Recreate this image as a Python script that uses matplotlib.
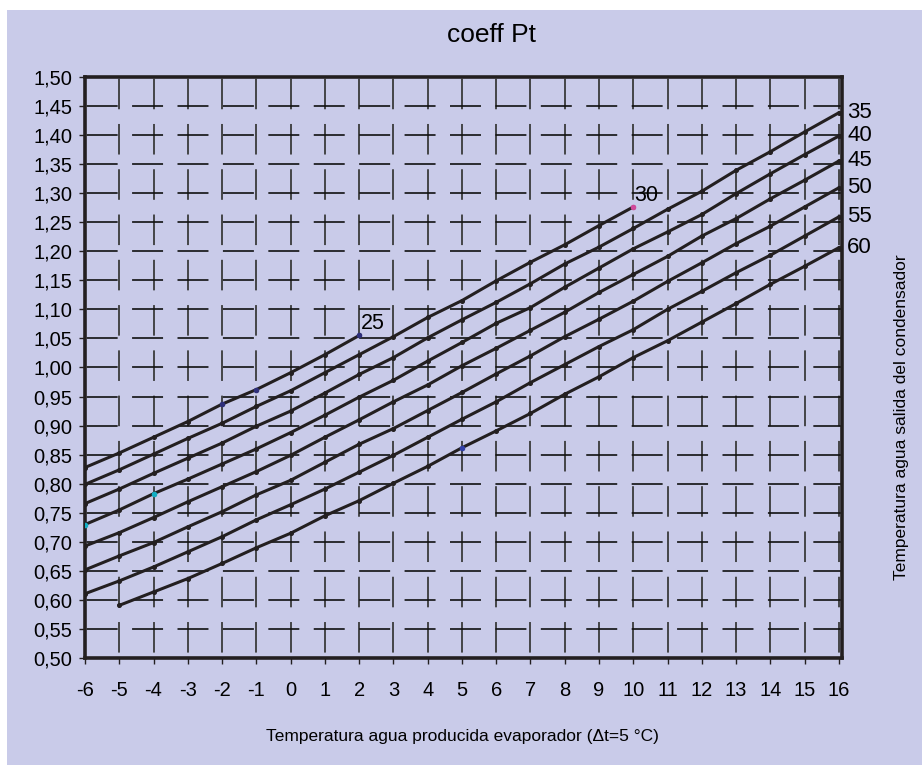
import numpy as np
import matplotlib
matplotlib.use("Agg")
import matplotlib.pyplot as plt
from matplotlib.patches import Rectangle
from matplotlib.ticker import FuncFormatter

plt.rcParams['font.family'] = ['Liberation Sans', 'DejaVu Sans']
plt.rcParams['lines.scale_dashes'] = False
plt.rcParams['axes.unicode_minus'] = False

BG = '#c9cbe9'
INK = '#231f20'

# temperatura agua producida evaporador
x_full = list(range(-6, 17))

# one curve per temperatura agua salida del condensador
t25_x = list(range(-6, 3))
t25 = [0.828, 0.853, 0.880, 0.907, 0.937, 0.962, 0.991, 1.022, 1.055]

t30_x = list(range(-6, 11))
t30 = [0.799, 0.824, 0.851, 0.878, 0.904, 0.933, 0.960, 0.991, 1.022,
       1.053, 1.086, 1.115, 1.149, 1.181, 1.211, 1.244, 1.276]

t35 = [0.766, 0.791, 0.818, 0.844, 0.870, 0.899, 0.925, 0.956, 0.988,
       1.017, 1.051, 1.082, 1.112, 1.144, 1.178, 1.207, 1.239, 1.272,
       1.303, 1.339, 1.371, 1.405, 1.438]

t40 = [0.730, 0.755, 0.783, 0.808, 0.834, 0.860, 0.888, 0.918, 0.949,
       0.978, 1.011, 1.043, 1.076, 1.103, 1.138, 1.171, 1.204, 1.233,
       1.263, 1.299, 1.333, 1.366, 1.398]

t45 = [0.693, 0.716, 0.742, 0.769, 0.795, 0.821, 0.849, 0.880, 0.910,
       0.941, 0.970, 1.003, 1.033, 1.064, 1.095, 1.129, 1.160, 1.191,
       1.226, 1.256, 1.290, 1.322, 1.355]

t50 = [0.652, 0.676, 0.699, 0.726, 0.752, 0.781, 0.806, 0.837, 0.868,
       0.895, 0.926, 0.957, 0.989, 1.020, 1.053, 1.083, 1.114, 1.148,
       1.180, 1.213, 1.243, 1.276, 1.309]

t55 = [0.611, 0.633, 0.657, 0.683, 0.709, 0.738, 0.764, 0.791, 0.820,
       0.849, 0.880, 0.911, 0.941, 0.974, 1.005, 1.036, 1.065, 1.100,
       1.131, 1.163, 1.193, 1.226, 1.259]

t60_x = list(range(-5, 17))
t60 = [0.591, 0.614, 0.637, 0.663, 0.690, 0.715, 0.745, 0.771, 0.801,
       0.830, 0.862, 0.891, 0.921, 0.954, 0.984, 1.017, 1.046, 1.078,
       1.110, 1.143, 1.174, 1.206]

series = [("25", t25_x, t25), ("30", t30_x, t30), ("35", x_full, t35),
          ("40", x_full, t40), ("45", x_full, t45), ("50", x_full, t50),
          ("55", x_full, t55), ("60", t60_x, t60)]

# a few points that show up coloured in the original
hl_series = ["25", "25", "25", "40", "40", "60", "30"]
hl_x = [-2, -1, 2, -6, -4, 5, 10]
hl_col = ['#2e2f7a', '#2e2f7a', '#2e2f7a', '#12aec4', '#12aec4', '#3240a8', '#d0489a']

fig = plt.figure(figsize=(9.22, 7.65), dpi=100)
fig.patch.set_facecolor('white')
fig.patches.append(Rectangle((7 / 922, 0), 1, 1 - 10 / 765, transform=fig.transFigure,
                             facecolor=BG, edgecolor='none', zorder=-10))

ax = fig.add_axes([85 / 922, 0.1395, 757 / 922, 0.7603])
ax.set_facecolor(BG)

for name, xs, ys in series:
    ax.plot(xs, ys, color=INK, lw=2.2, marker='o', ms=2.6, zorder=3)
    if name in ("25", "30"):
        ax.annotate(name, (xs[-1], ys[-1]), xytext=(1, 1), textcoords='offset points',
                    ha='left', va='bottom', fontsize=15.5, zorder=5)
    else:
        ax.annotate(name, (xs[-1], ys[-1]), xytext=(6, 0), textcoords='offset points',
                    ha='left', va='center', fontsize=16, annotation_clip=False)

lookup = {name: dict(zip(xs, ys)) for name, xs, ys in series}
for name, xv, c in zip(hl_series, hl_x, hl_col):
    ax.plot([xv], [lookup[name][xv]], 'o', ms=3.0, color=c, zorder=4)

ax.set_xlim(-6, 16.09)
ax.set_ylim(0.50, 1.50)
ax.set_xticks(x_full)
ax.set_yticks(np.round(np.arange(0.50, 1.501, 0.05), 2))
ax.yaxis.set_major_formatter(FuncFormatter(lambda v, p: f"{v:.2f}".replace('.', ',')))

ax.tick_params(axis='both', direction='out', length=4, width=1, color=INK,
               labelsize=14.5)
ax.tick_params(axis='x', pad=12)
ax.tick_params(axis='y', pad=5)

# dashed grid giving the broken-cross look
ax.xaxis.grid(True, color='#3a3a3a', lw=1.3, linestyle=(28.7, (22.0, 10.6)), zorder=1)
ax.yaxis.grid(True, color='#111111', lw=1.2, linestyle=(31.5, (22.3, 10.4)), zorder=1)
ax.set_axisbelow(True)

for s in ax.spines.values():
    s.set_linewidth(2.6)
    s.set_color(INK)

fig.text(491 / 922, 1 - 35 / 765, "coeff Pt", ha='center', va='center', fontsize=19)
fig.text(462 / 922, 1 - 737 / 765, "Temperatura agua producida evaporador (\u0394t=5 \u00b0C)",
         ha='center', va='center', fontsize=12.5)
fig.text(901 / 922, 1 - 417 / 765, "Temperatura agua salida del condensador",
         ha='center', va='center', rotation=90, fontsize=12.5)

fig.savefig("out.png", dpi=100, facecolor=fig.get_facecolor())
